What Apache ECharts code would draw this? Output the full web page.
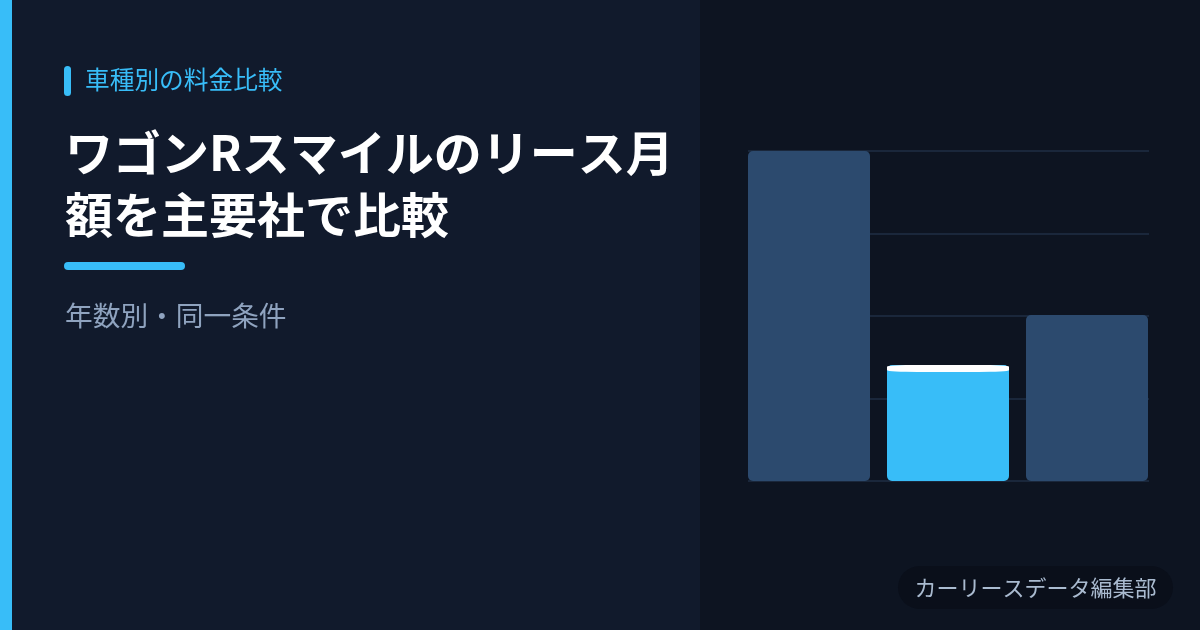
<!DOCTYPE html>
<html>
<head>
<meta charset="utf-8">
<script src="https://cdn.jsdelivr.net/npm/echarts@6/dist/echarts.min.js"></script>
<style>
  html, body { margin: 0; padding: 0; }
  body {
    width: 1200px; height: 630px; overflow: hidden;
    background: linear-gradient(to right, #38bdf8 0, #38bdf8 12px, #111a2c 12px, #111a2c 700px, #0d1421 700px);
  }
  #chart { width: 1200px; height: 630px; }
</style>
</head>
<body>
<div id="chart"></div>
<script>
// values (no axis labels shown, scale estimated)
var companies = ['A社', 'B社', 'C社'];
var monthly = [32000, 11250, 16100];
var highlight = 1;
var yMax = 32000;
var yStep = 8000;

var FONT = '"Noto Sans CJK JP", "Noto Sans", sans-serif';
var barDark = '#2c4a6e';
var barBlue = '#38bdf8';

var barData = monthly.map(function(v, i) {
    return { value: v, itemStyle: { color: i === highlight ? barBlue : barDark } };
});
var capData = monthly.map(function(v, i) {
    return i === highlight ? v : '-';
});

var chart = echarts.init(document.getElementById('chart'), null, { renderer: 'canvas' });

chart.setOption({
    animation: false,
    grid: [
        // bars: each band is bar width + gap, so bars reach the grid line ends
        { left: 739.5, top: 151, width: 417, height: 330 },
        // grid lines only
        { left: 748, top: 151, width: 401, height: 330 }
    ],
    xAxis: [
        { type: 'category', gridIndex: 0, data: companies, show: false },
        { type: 'category', gridIndex: 1, data: companies, show: false }
    ],
    yAxis: [
        { type: 'value', gridIndex: 0, min: 0, max: yMax, interval: yStep, show: false },
        {
            type: 'value', gridIndex: 1, min: 0, max: yMax, interval: yStep,
            axisLine: { show: false }, axisTick: { show: false }, axisLabel: { show: false },
            splitLine: { show: true, lineStyle: { color: '#1f2e45', width: 1.5 } }
        }
    ],
    series: [
        {
            type: 'bar',
            xAxisIndex: 0, yAxisIndex: 0,
            data: barData,
            barWidth: 122,
            itemStyle: { borderRadius: 5 },
            z: 3
        },
        {
            type: 'pictorialBar',
            xAxisIndex: 0, yAxisIndex: 0,
            data: capData,
            symbol: 'roundRect',
            symbolSize: [122, 7],
            symbolPosition: 'end',
            itemStyle: { color: '#ffffff' },
            z: 4
        }
    ],
    graphic: [
        { type: 'rect', shape: { x: 64, y: 66, width: 7, height: 30, r: 3.5 }, style: { fill: '#38bdf8' } },
        {
            type: 'text', x: 85, y: 80,
            style: { text: '車種別の料金比較', fill: '#38bdf8', font: '24.7px ' + FONT, verticalAlign: 'middle' }
        },
        {
            type: 'text', x: 65, y: 153,
            style: { text: 'ワゴンRスマイルのリース月', fill: '#ffffff', font: 'bold 48px ' + FONT, verticalAlign: 'middle' }
        },
        {
            type: 'text', x: 65, y: 215,
            style: { text: '額を主要社で比較', fill: '#ffffff', font: 'bold 48px ' + FONT, verticalAlign: 'middle' }
        },
        { type: 'rect', shape: { x: 64, y: 262, width: 121, height: 8, r: 4 }, style: { fill: '#38bdf8' } },
        {
            type: 'text', x: 65, y: 315,
            style: { text: '年数別・同一条件', fill: '#8fa3bf', font: '27.7px ' + FONT, verticalAlign: 'middle' }
        },
        { type: 'rect', shape: { x: 898, y: 566, width: 275, height: 43, r: 21.5 }, style: { fill: '#0a0f1a' } },
        {
            type: 'text', x: 1035.5, y: 587.5,
            style: { text: 'カーリースデータ編集部', fill: '#aabbd0', font: '22px ' + FONT, align: 'center', verticalAlign: 'middle' }
        }
    ]
});
</script>
</body>
</html>
